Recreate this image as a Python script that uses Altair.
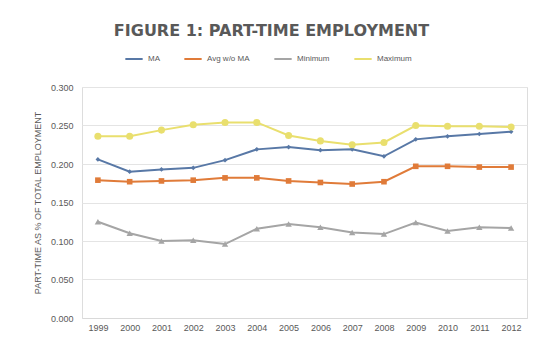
import altair as alt
import pandas as pd

years = [str(y) for y in range(1999, 2013)]
ma = [0.206, 0.190, 0.193, 0.195, 0.205, 0.219, 0.222, 0.218, 0.219, 0.210, 0.232, 0.236, 0.239, 0.242]
avg_wo_ma = [0.179, 0.177, 0.178, 0.179, 0.182, 0.182, 0.178, 0.176, 0.174, 0.177, 0.197, 0.197, 0.196, 0.196]
minimum = [0.125, 0.110, 0.100, 0.101, 0.096, 0.116, 0.122, 0.118, 0.111, 0.109, 0.124, 0.113, 0.118, 0.117]
maximum = [0.236, 0.236, 0.244, 0.251, 0.254, 0.254, 0.237, 0.230, 0.225, 0.228, 0.250, 0.249, 0.249, 0.248]

series_names = ["MA", "Avg w/o MA", "Minimum", "Maximum"]
series_vals = [ma, avg_wo_ma, minimum, maximum]
line_colors = ["#5878A6", "#E07B39", "#A5A5A5", "#E9DF6E"]
marker_shapes = ["diamond", "square", "triangle-up", "circle"]
marker_sizes = [22, 50, 22, 12]

rows = []
for name, vals in zip(series_names, series_vals):
    for y, v in zip(years, vals):
        rows.append({"Year": y, "Series": name, "Marker": name, "Value": v})
df = pd.DataFrame(rows)

x_enc = alt.X("Year:O", scale=alt.Scale(paddingInner=0, paddingOuter=0.5, align=0.5),
              axis=alt.Axis(title=None, labelAngle=0, labelFont="Liberation Sans", labelFontSize=9,
                            labelColor="#595959", domain=True, domainColor="#D9D9D9",
                            ticks=False, labelPadding=5))
y_enc = alt.Y("Value:Q", scale=alt.Scale(domain=[0, 0.3], nice=False),
              axis=alt.Axis(title="PART-TIME AS % OF TOTAL EMPLOYMENT", format=".3f",
                            values=[0, 0.05, 0.1, 0.15, 0.2, 0.25, 0.3],
                            titleFont="Liberation Sans", titleFontSize=9, titleFontWeight="normal",
                            titleColor="#595959", titlePadding=8,
                            labelFont="Liberation Sans", labelFontSize=9, labelColor="#595959",
                            domain=False, ticks=False, labelPadding=9,
                            grid=True, gridColor="#E4E4E4"))

lines = alt.Chart(df).mark_line(strokeWidth=2).encode(
    x=x_enc, y=y_enc,
    color=alt.Color("Series:N", scale=alt.Scale(domain=series_names, range=line_colors),
                    sort=series_names,
                    legend=alt.Legend(title=None, orient="none", direction="horizontal",
                                      legendX=42, legendY=-38, symbolType="stroke",
                                      symbolStrokeWidth=2, symbolSize=300,
                                      labelFont="Liberation Sans", labelFontSize=8,
                                      labelColor="#595959", columnPadding=20)),
)

points = alt.Chart(df).mark_point(filled=True, opacity=1).encode(
    x=x_enc, y=y_enc,
    color=alt.Color("Marker:N", scale=alt.Scale(domain=series_names, range=line_colors), legend=None),
    shape=alt.Shape("Marker:N", scale=alt.Scale(domain=series_names, range=marker_shapes), legend=None),
    size=alt.Size("Marker:N", scale=alt.Scale(domain=series_names, range=marker_sizes), legend=None),
)

chart = alt.layer(lines, points).resolve_scale(color="independent").properties(
    width=445, height=231,
    autosize=alt.AutoSizeParams(type="none"),
    padding={"left": 74, "top": 79, "right": 3, "bottom": 15},
    title=alt.TitleParams("FIGURE 1: PART-TIME  EMPLOYMENT", font="DejaVu Sans", fontSize=16,
                          fontWeight="bold", color="#595959", anchor="middle", offset=10,
                          dx=-33),
).configure_view(stroke=None).configure(background="white")

chart.save("out.html", embed_options={"renderer": "svg", "actions": False})
